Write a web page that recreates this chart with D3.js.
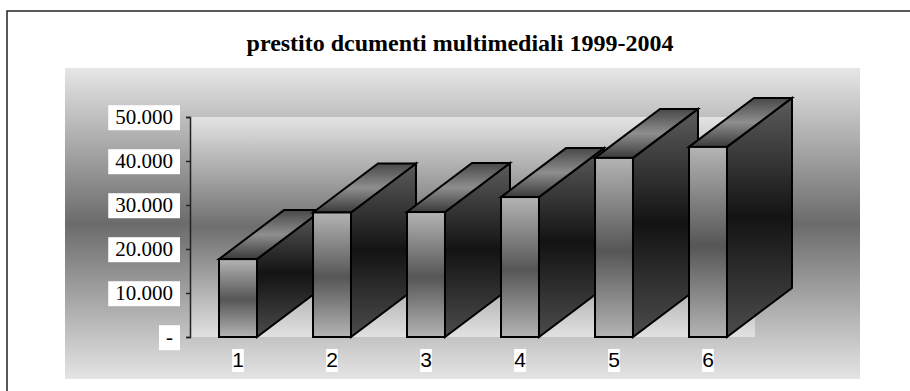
<!DOCTYPE html>
<html>
<head>
<meta charset="utf-8">
<script src="https://cdn.jsdelivr.net/npm/d3@7"></script>
<style>
  html, body { margin: 0; padding: 0; background: #ffffff; }
  svg { display: block; }
</style>
</head>
<body>
<svg id="chart" width="910" height="391"></svg>
<script>
// Loans of multimedia documents, one column per year (1999-2004)
const categories = ["1", "2", "3", "4", "5", "6"];
const loans = [17700, 28300, 28400, 31800, 40700, 43200];
const yTickValues = [0, 10000, 20000, 30000, 40000, 50000];
const yTickLabels = ["-", "10.000", "20.000", "30.000", "40.000", "50.000"];
const titleText = "prestito dcumenti multimediali 1999-2004";

const svg = d3.select("#chart");
const defs = svg.append("defs");

// vertical three-stop gradients (light / dark / light and similar)
function vGrad(id, stops) {
  const g = defs.append("linearGradient")
    .attr("id", id).attr("x1", 0).attr("y1", 0).attr("x2", 0).attr("y2", 1);
  stops.forEach(([o, c]) => g.append("stop").attr("offset", o).attr("stop-color", c));
}
vGrad("areaFill", [[0, "#e6e6e6"], [0.5, "#6b6b6b"], [1, "#e4e4e4"]]);
vGrad("wallFill", [[0, "#e4e4e4"], [0.5, "#6e6e6e"], [1, "#e2e2e2"]]);
vGrad("frontFill", [[0, "#b4b4b4"], [0.52, "#565656"], [1, "#b4b4b4"]]);
vGrad("sideFill", [[0, "#5c5c5c"], [0.5, "#131313"], [1, "#4c4c4c"]]);
vGrad("topFill", [[0, "#484848"], [0.5, "#8e8e8e"], [1, "#3a3a3a"]]);

// outer frame (left and top edges fall inside the page)
svg.append("rect")
  .attr("x", 7).attr("y", 11).attr("width", 920).attr("height", 400)
  .attr("fill", "#ffffff").attr("stroke", "#222").attr("stroke-width", 1.5);

// chart area
svg.append("rect")
  .attr("x", 65).attr("y", 68).attr("width", 795).attr("height", 311)
  .attr("fill", "url(#areaFill)");

// title
svg.append("text")
  .attr("x", 460).attr("y", 51)
  .attr("text-anchor", "middle")
  .attr("font-family", "'Times New Roman', 'Liberation Serif', serif")
  .attr("font-weight", "bold")
  .attr("font-size", 24)
  .attr("fill", "#000")
  .text(titleText);

// scales
const y = d3.scaleLinear().domain([0, 50000]).range([337, 117]);
const x = d3.scaleBand().domain(categories).range([191, 755])
  .paddingInner(0.596).paddingOuter(0.298);

// back wall
svg.append("rect")
  .attr("x", x.range()[0]).attr("y", y(50000))
  .attr("width", x.range()[1] - x.range()[0]).attr("height", y(0) - y(50000))
  .attr("fill", "url(#wallFill)");

// value axis
const axisX = 190;
const yAxis = svg.append("g")
  .attr("transform", `translate(${axisX},0)`)
  .call(d3.axisLeft(y)
    .tickValues(yTickValues)
    .tickFormat((d, i) => yTickLabels[i])
    .tickSize(4).tickSizeOuter(4).tickPadding(13));
yAxis.select(".domain").attr("stroke", "#222").attr("stroke-width", 1.5);
yAxis.selectAll(".tick line").attr("stroke", "#222").attr("stroke-width", 1.5);
yAxis.selectAll(".tick text")
  .attr("font-family", "'Times New Roman', 'Liberation Serif', serif")
  .attr("font-size", 21)
  .attr("fill", "#000");

// white boxes behind tick labels
yAxis.selectAll(".tick").each(function () {
  const t = d3.select(this).select("text");
  const b = t.node().getBBox();
  d3.select(this).insert("rect", "text")
    .attr("x", b.x - 7).attr("y", b.y)
    .attr("width", b.width + 14).attr("height", b.height + 1)
    .attr("fill", "#fff");
});

// 3D columns
const depthX = 65, depthY = 49;
const bars = svg.append("g");
categories.forEach((c, i) => {
  const x0 = x(c), x1 = x(c) + x.bandwidth();
  const yt = y(loans[i]), yb = y(0);
  const g = bars.append("g")
    .attr("stroke", "#000").attr("stroke-width", 2).attr("stroke-linejoin", "miter");
  // right side
  g.append("path")
    .attr("d", `M${x1},${yt} L${x1 + depthX},${yt - depthY} L${x1 + depthX},${yb - depthY} L${x1},${yb} Z`)
    .attr("fill", "url(#sideFill)");
  // top
  g.append("path")
    .attr("d", `M${x0},${yt} L${x0 + depthX},${yt - depthY} L${x1 + depthX},${yt - depthY} L${x1},${yt} Z`)
    .attr("fill", "url(#topFill)");
  // front
  g.append("rect")
    .attr("x", x0).attr("y", yt).attr("width", x1 - x0).attr("height", yb - yt)
    .attr("fill", "url(#frontFill)");
});

// category labels
const cat = svg.append("g");
categories.forEach(c => {
  const cx = x(c) + x.bandwidth() / 2;
  const t = cat.append("text")
    .attr("x", cx).attr("y", 367)
    .attr("text-anchor", "middle")
    .attr("font-family", "Arial, 'Liberation Sans', sans-serif")
    .attr("font-size", 21)
    .attr("fill", "#000")
    .text(c);
  const b = t.node().getBBox();
  cat.insert("rect", "text")
    .attr("x", b.x).attr("y", b.y + 1)
    .attr("width", b.width).attr("height", b.height)
    .attr("fill", "#fff");
});
</script>
</body>
</html>
